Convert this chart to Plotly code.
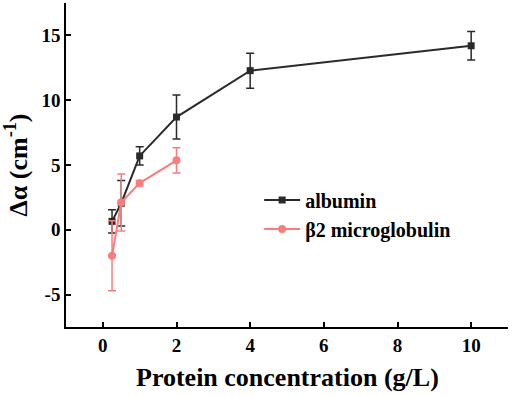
import plotly.graph_objects as go

conc_alb = [0.25, 0.5, 1, 2, 4, 10]
alb = [0.65, 2.05, 5.7, 8.7, 12.28, 14.2]
alb_err = [0.9, 1.75, 0.7, 1.7, 1.35, 1.1]

conc_b2 = [0.25, 0.5, 1, 2]
b2 = [-2.0, 2.1, 3.6, 5.36]
b2_err = [2.7, 2.2, 0.2, 0.97]

x_ticks = [0, 2, 4, 6, 8, 10]
y_ticks = [-5, 0, 5, 10, 15]
y_ticktext = ["-5", "0", "5", "10", "15"]

FONT = "Liberation Serif, Times New Roman, serif"
fig = go.Figure()
fig.add_trace(go.Scatter(
    x=conc_alb, y=alb, name="<b>albumin</b>", mode="lines+markers",
    line=dict(color="#2a2a2a", width=2),
    marker=dict(symbol="square", size=7, color="#2a2a2a"),
    error_y=dict(type="data", array=alb_err, color="#2a2a2a", thickness=1.5, width=4),
))
fig.add_trace(go.Scatter(
    x=conc_b2, y=b2, name="<b>β2 microglobulin</b>", mode="lines+markers",
    line=dict(color="#fa7d7d", width=2),
    marker=dict(symbol="circle", size=8, color="#fa7d7d"),
    error_y=dict(type="data", array=b2_err, color="#fa7d7d", thickness=1.5, width=4),
))

axis_common = dict(
    showline=True, linecolor="black", linewidth=1.5, ticks="inside", ticklen=5,
    tickwidth=1.5, tickcolor="black", showgrid=False, zeroline=False, mirror=False,
    automargin=False,
    tickfont=dict(family=FONT, size=19, color="black", weight="bold"),
)
fig.update_xaxes(range=[-1, 11], tickvals=x_ticks, **axis_common)
fig.update_yaxes(range=[-7.5, 17.5], tickvals=y_ticks, ticktext=y_ticktext,
                 ticklabelstandoff=0,
                 title=dict(text="<b>Δα (cm<sup>-1</sup>)</b>", standoff=8,
                            font=dict(family=FONT, size=26, color="black")),
                 **axis_common)
fig.add_annotation(text="<b>Protein concentration (g/L)</b>", xref="paper", yref="paper",
                   x=0.5, y=-0.157, xanchor="center", yanchor="middle", showarrow=False,
                   font=dict(family=FONT, size=26, color="black"))
fig.update_layout(
    width=512, height=396, plot_bgcolor="white", paper_bgcolor="white",
    margin=dict(l=66, r=4, t=3, b=69, autoexpand=False),
    font=dict(family=FONT),
    legend=dict(x=0.437, y=0.452, xanchor="left", yanchor="top",
                font=dict(family=FONT, size=20, color="black"),
                bgcolor="rgba(0,0,0,0)", itemwidth=36, tracegroupgap=0),
    showlegend=True,
)
fig.write_html("out.html", config={"displayModeBar": False},
               post_script="document.body.style.margin='0';")
